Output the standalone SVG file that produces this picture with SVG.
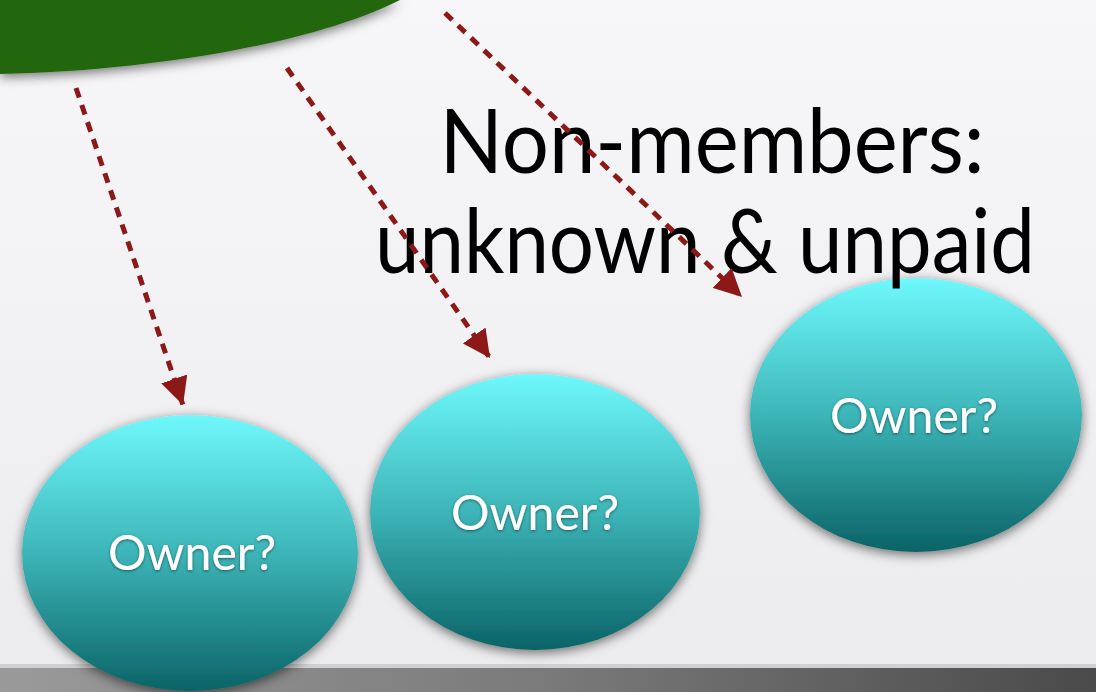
<svg xmlns="http://www.w3.org/2000/svg" width="1096" height="692" viewBox="0 0 1096 692">
<defs>
  <linearGradient id="bg" x1="0" y1="0" x2="0" y2="1">
    <stop offset="0" stop-color="#f7f7f9"/>
    <stop offset="1" stop-color="#ececee"/>
  </linearGradient>
  <linearGradient id="strip" x1="0" y1="0" x2="1" y2="0">
    <stop offset="0" stop-color="#9a9a9a"/>
    <stop offset="0.5" stop-color="#7a7a7a"/>
    <stop offset="1" stop-color="#4a4a4a"/>
  </linearGradient>
  <linearGradient id="teal" x1="0" y1="0" x2="0" y2="1">
    <stop offset="0" stop-color="#6ff9fc"/>
    <stop offset="0.5" stop-color="#3db5b8"/>
    <stop offset="1" stop-color="#0b6366"/>
  </linearGradient>
  <filter id="shadow" x="-20%" y="-20%" width="140%" height="140%">
    <feDropShadow dx="0" dy="3" stdDeviation="6" flood-color="#000" flood-opacity="0.55"/>
  </filter>
  <filter id="tshadow" x="-10%" y="-20%" width="120%" height="140%">
    <feDropShadow dx="0" dy="1" stdDeviation="1.5" flood-color="#000" flood-opacity="0.5"/>
  </filter>
  <marker id="arrow" viewBox="0 0 10 10" refX="10" refY="5" markerWidth="5.5" markerHeight="5.5" orient="auto" markerUnits="strokeWidth">
    <path d="M0,0 L10,5 L0,10 Z" fill="#8c1818"/>
  </marker>
  <style>
    .conn { fill: none; stroke: #8c1818; stroke-width: 5; stroke-dasharray: 10 8; }
    .node { fill: url(#teal); filter: url(#shadow); }
    .label { font-family: "Lato", "Open Sans", sans-serif; font-size: 48px; fill: #ffffff; text-anchor: middle; filter: url(#tshadow); }
    .title { font-family: "Lato", "Open Sans", sans-serif; font-size: 90px; fill: #000000; text-anchor: middle; }
  </style>
</defs>

<rect x="0" y="0" width="1096" height="692" fill="url(#bg)"/>
<rect x="0" y="664" width="1096" height="5" fill="#d0d0d2"/>
<rect x="0" y="668" width="1096" height="24" fill="url(#strip)"/>

<g id="green-shape">
  <path d="M0,0 L0,74 C120,72 300,50 400,0 Z" fill="#23660f" filter="url(#shadow)"/>
</g>

<g id="node1">
  <ellipse class="node" cx="190" cy="553" rx="168" ry="138"/>
  <text class="label" x="192" y="570" textLength="168" lengthAdjust="spacingAndGlyphs">Owner?</text>
</g>
<g id="node2">
  <ellipse class="node" cx="535" cy="512" rx="165" ry="138"/>
  <text class="label" x="535" y="530" textLength="168" lengthAdjust="spacingAndGlyphs">Owner?</text>
</g>
<g id="node3">
  <ellipse class="node" cx="916" cy="415" rx="166" ry="137"/>
  <text class="label" x="914" y="433" textLength="168" lengthAdjust="spacingAndGlyphs">Owner?</text>
</g>

<g id="title">
  <text class="title" x="712" y="173" textLength="545" lengthAdjust="spacingAndGlyphs">Non-members:</text>
  <text class="title" x="705" y="273" textLength="660" lengthAdjust="spacingAndGlyphs">unknown &amp; unpaid</text>
</g>

<g id="connectors">
  <line class="conn" x1="76" y1="88" x2="183" y2="405" marker-end="url(#arrow)"/>
  <line class="conn" x1="287" y1="68" x2="490" y2="358" marker-end="url(#arrow)"/>
  <line class="conn" x1="445" y1="13" x2="742" y2="297" marker-end="url(#arrow)"/>
</g>
</svg>
